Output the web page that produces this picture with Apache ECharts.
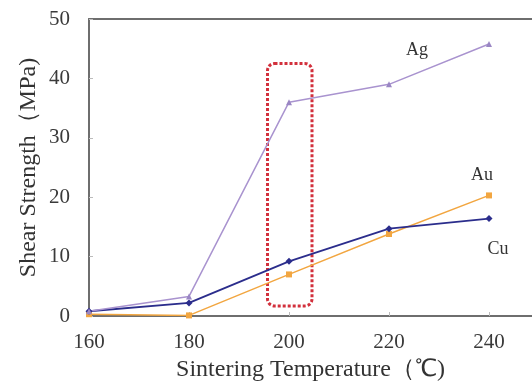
<!DOCTYPE html>
<html><head><meta charset="utf-8">
<script src="https://cdn.jsdelivr.net/npm/echarts@6/dist/echarts.min.js"></script>
<style>html,body{margin:0;padding:0;background:#fff}#c{width:532px;height:383px}</style>
</head><body><div id="c"></div>
<script>
const temps = [160, 180, 200, 220, 240];
const ag = [0.8, 3.3, 36.0, 39.0, 45.8];
const cu = [0.8, 2.2, 9.2, 14.7, 16.4];
const au = [0.3, 0.1, 7.0, 13.8, 20.3];
const xTicks = [160, 180, 200, 220, 240];
const yTicks = [0, 10, 20, 30, 40, 50];
const seriesLabels = ['Ag', 'Au', 'Cu'];
const labelCoords = [[225.6, 44.7], [238.6, 23.7], [241.8, 11.3]];
const boxCoords = [[195.7, 42.5], [204.6, 1.7]];

const font = '"Liberation Serif", "Times New Roman", serif';
const pair = (xs, ys) => xs.map((x, i) => [x, ys[i]]);
const chart = echarts.init(document.getElementById('c'));
chart.setOption({
  animation: false,
  grid: { left: 89, right: 0, top: 19, bottom: 67, containLabel: false, outerBoundsMode: 'none' },
  xAxis: [{
    type: 'value', min: 160, max: 248.6, interval: 20,
    axisLine: { lineStyle: { color: '#6e6e6e', width: 2 } },
    axisTick: { show: true, inside: true, length: 4, lineStyle: { color: '#bbb' } },
    splitLine: { show: false },
    axisLabel: { color: '#3a3a3a', fontFamily: font, fontSize: 21, margin: 16,
      showMaxLabel: false,
      formatter: v => xTicks.includes(v) ? String(v) : '' },
    name: 'Sintering Temperature（℃)', nameLocation: 'middle', nameGap: 42, nameMoveOverlap: false,
    nameTextStyle: { color: '#333', fontFamily: font, fontSize: 24 }
  }, {
    type: 'value', position: 'top', min: 160, max: 248.6,
    axisLine: { show: true, lineStyle: { color: '#6e6e6e', width: 2 } },
    axisTick: { show: false }, axisLabel: { show: false }, splitLine: { show: false }
  }],
  yAxis: {
    type: 'value', min: 0, max: 50, interval: 10,
    axisLine: { show: true, lineStyle: { color: '#6e6e6e', width: 2 } },
    axisTick: { show: true, inside: true, length: 4, lineStyle: { color: '#bbb' } },
    splitLine: { show: false },
    axisLabel: { color: '#3a3a3a', fontFamily: font, fontSize: 21, margin: 19,
      formatter: v => yTicks.includes(v) ? String(v) : '' },
    name: 'Shear Strength（MPa)', nameLocation: 'middle', nameGap: 48, nameMoveOverlap: false,
    nameTextStyle: { color: '#333', fontFamily: font, fontSize: 24 }
  },
  series: [
    { name: 'Au', type: 'line', data: pair(temps, au), symbol: 'rect', symbolSize: 6,
      lineStyle: { color: '#f2a640', width: 1.5 }, itemStyle: { color: '#f2a640' } },
    { name: 'Cu', type: 'line', data: pair(temps, cu), symbol: 'diamond', symbolSize: 7,
      lineStyle: { color: '#2b2d8c', width: 1.8 }, itemStyle: { color: '#2b2d8c' } },
    { name: 'Ag', type: 'line', data: pair(temps, ag), symbol: 'triangle', symbolSize: 6,
      lineStyle: { color: '#a993cf', width: 1.5 }, itemStyle: { color: '#9a86c4' },
      markPoint: {
        symbol: 'circle', symbolSize: 0, silent: true,
        label: { show: true, color: '#333', fontFamily: font, fontSize: 18, formatter: p => p.name },
        data: seriesLabels.map((n, i) => ({ name: n, coord: labelCoords[i] }))
      }
    }
  ]
});
const p1 = chart.convertToPixel({ gridIndex: 0 }, boxCoords[0]);
const p2 = chart.convertToPixel({ gridIndex: 0 }, boxCoords[1]);
chart.setOption({
  graphic: [{
    type: 'rect', silent: true,
    shape: { x: p1[0], y: p1[1], width: p2[0] - p1[0], height: p2[1] - p1[1], r: 7 },
    style: { fill: 'none', stroke: '#d2303c', lineWidth: 3, lineDash: [3, 2] }
  }]
});
</script></body></html>
